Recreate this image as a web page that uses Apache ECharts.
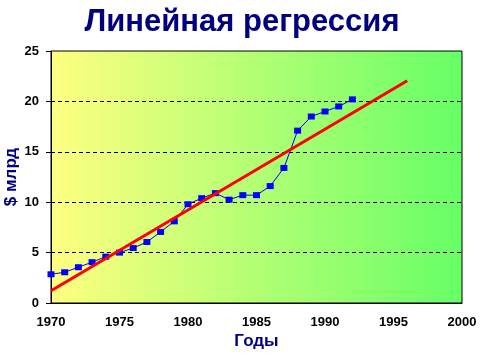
<!DOCTYPE html>
<html><head><meta charset="utf-8">
<script src="https://cdn.jsdelivr.net/npm/echarts@6/dist/echarts.min.js"></script>
<style>html,body{margin:0;padding:0;background:#fff}#c{width:484px;height:360px}</style>
</head><body><div id="c"></div>
<script>
const years = [1970,1971,1972,1973,1974,1975,1976,1977,1978,1979,1980,1981,1982,1983,1984,1985,1986,1987,1988,1989,1990,1991,1992];
const values = [2.85,3.05,3.55,4.05,4.6,5.0,5.45,6.05,7.05,8.1,9.8,10.4,10.9,10.25,10.7,10.7,11.6,13.4,17.1,18.5,19.0,19.5,20.2];
const trendYears = [1970,1996];
const trendValues = [1.22,22.05];
const xTicks = {min:1970,max:2000,step:5};
const yTicks = {min:0,max:25,step:5};

const chart = echarts.init(document.getElementById('c'));
const font = 'Arial, "Liberation Sans", sans-serif';
chart.setOption({
  animation:false,
  title:{text:'Линейная регрессия',left:'center',top:2,textStyle:{fontSize:31,fontWeight:'bold',color:'#000080',fontFamily:font}},
  grid:{left:51,right:22,top:51,bottom:57,show:true,borderColor:'#000',borderWidth:1,containLabel:false,outerBoundsMode:'none',
    backgroundColor:new echarts.graphic.LinearGradient(0,0,1,0,[{offset:0,color:'#FFFF80'},{offset:1,color:'#66FF66'}])},
  xAxis:{type:'value',min:xTicks.min,max:xTicks.max,interval:xTicks.step,
    name:'Годы',nameLocation:'middle',nameGap:30,nameMoveOverlap:false,nameTextStyle:{fontSize:17,fontWeight:'bold',color:'#000080',fontFamily:font},
    axisLine:{lineStyle:{color:'#000',width:1}},axisTick:{show:false},splitLine:{show:false},
    axisLabel:{fontSize:13,fontWeight:'bold',color:'#000',fontFamily:font,margin:13,formatter:v=>String(v)}},
  yAxis:{type:'value',min:yTicks.min,max:yTicks.max,interval:yTicks.step,
    name:'$ млрд',nameLocation:'middle',nameGap:31,nameMoveOverlap:false,nameTextStyle:{fontSize:17,fontWeight:'bold',color:'#000080',fontFamily:font},
    axisLine:{show:true,lineStyle:{color:'#000',width:1}},axisTick:{show:true,length:5,lineStyle:{color:'#000'}},
    splitLine:{show:true,showMinLine:false,showMaxLine:false,lineStyle:{color:'#000',type:[4,3],width:1}},
    axisLabel:{fontSize:13,fontWeight:'bold',color:'#000',fontFamily:font,margin:12,formatter:v=>String(v)}},
  series:[
    {type:'line',data:years.map((y,i)=>[y,values[i]]),symbol:'rect',symbolSize:[7,6],
      lineStyle:{color:'#0000FF',width:1},itemStyle:{color:'#0000FF'},z:2},
    {type:'line',data:trendYears.map((y,i)=>[y,trendValues[i]]),symbol:'none',
      lineStyle:{color:'#FF0000',width:3},z:3}
  ]
});
</script></body></html>
